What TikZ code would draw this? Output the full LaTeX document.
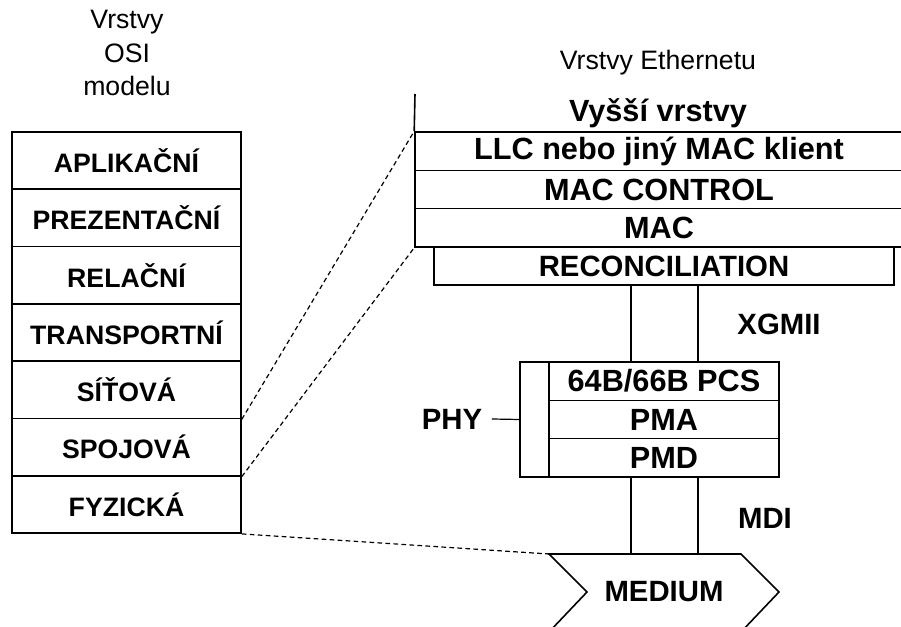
\documentclass[tikz,border=0pt]{standalone}
\usepackage{fontspec}
\setmainfont{Liberation Sans}
\begin{document}
\begin{tikzpicture}[x=0.75pt,y=-0.75pt,
  box/.style={draw, line width=1.2pt, inner sep=0pt, rectangle},
  osi/.style={box, minimum width=171.75pt, minimum height=43pt,
    font=\fontsize{20}{24}\selectfont\bfseries},
  eth/.style={box, font=\fontsize{23}{27}\selectfont\bfseries},
  ethrow/.style={eth, minimum width=366pt, minimum height=28.75pt},
  phyrow/.style={eth, minimum width=172.5pt, minimum height=28.75pt},
  lbl/.style={font=\fontsize{22}{26}\selectfont\bfseries, inner sep=0pt},
  title/.style={font=\fontsize{20}{24}\selectfont, align=center, inner sep=0pt},
  link/.style={line width=0.9pt},
  guide/.style={line width=0.9pt, dash pattern=on 3.5pt off 2.5pt}]
\useasboundingbox (0,0) rectangle (901,627);

% titles
\node[title, font=\fontsize{20}{25}\selectfont] (osititle) at (127,53) {Vrstvy\\OSI\\modelu};
\node[title] (ethtitle) at (658,63) {Vrstvy Ethernetu};

% OSI reference model stack
\node[osi] (apl)  at (126.5,160.65) {APLIKAČNÍ};
\node[osi] (pre)  at (126.5,217.95) {PREZENTAČNÍ};
\node[osi] (rel)  at (126.5,275.25) {RELAČNÍ};
\node[osi] (tra)  at (126.5,332.55) {TRANSPORTNÍ};
\node[osi] (sit)  at (126.5,389.85) {SÍŤOVÁ};
\node[osi] (spoj) at (126.5,447.15) {SPOJOVÁ};
\node[osi] (fyz)  at (126.5,504.45) {FYZICKÁ};

% Ethernet layers
\node[lbl, font=\fontsize{23}{27}\selectfont\bfseries] (vys) at (658,113) {Vyšší vrstvy};
\node[ethrow] (llc)    at (659,151.17) {LLC nebo jiný MAC klient};
\node[ethrow] (macctl) at (659,189.5)  {MAC CONTROL};
\node[ethrow] (mac)    at (659,227.83) {MAC};
\draw[line width=1.2pt] (415,94) -- (llc.north west);
\node[eth, font=\fontsize{22}{26}\selectfont\bfseries, minimum width=345pt, minimum height=28.5pt] (rec) at (664,266) {RECONCILIATION};

% PHY block
\node[box, minimum width=194.25pt, minimum height=86.25pt] (phy) at (649.5,419.5) {};
\node[phyrow] (pcs) at (664,381.17) {64B/66B PCS};
\node[phyrow] (pma) at (664,419.5)  {PMA};
\node[phyrow] (pmd) at (664,457.83) {PMD};
\node[lbl, inner sep=7pt] (phylbl) at (452,419) {PHY};
\draw[link] (phylbl.east) -- (phy.west);

% medium
\coordinate (medtl) at (549,554);
\draw[line width=1.2pt] (549,632) -- (587,592) -- (medtl) -- (741,554) -- (779,592) -- (741,632);
\node[lbl] (medium) at (664,592) {MEDIUM};

% interfaces
\coordinate (xa) at (631,0);
\coordinate (xb) at (698,0);
\draw[link] (rec.south -| xa) -- (pcs.north -| xa);
\draw[link] (rec.south -| xb) -- (pcs.north -| xb);
\node[lbl] (xgmii) at (779,324) {XGMII};
\draw[link] (pmd.south -| xa) -- (medtl -| xa);
\draw[link] (pmd.south -| xb) -- (medtl -| xb);
\node[lbl] (mdi) at (765,518) {MDI};

% layer correspondence
\draw[guide] (sit.south east) -- (llc.north west);
\draw[guide] (spoj.south east) -- (mac.south west);
\draw[guide] (fyz.south east) -- (medtl);
\end{tikzpicture}
\end{document}
